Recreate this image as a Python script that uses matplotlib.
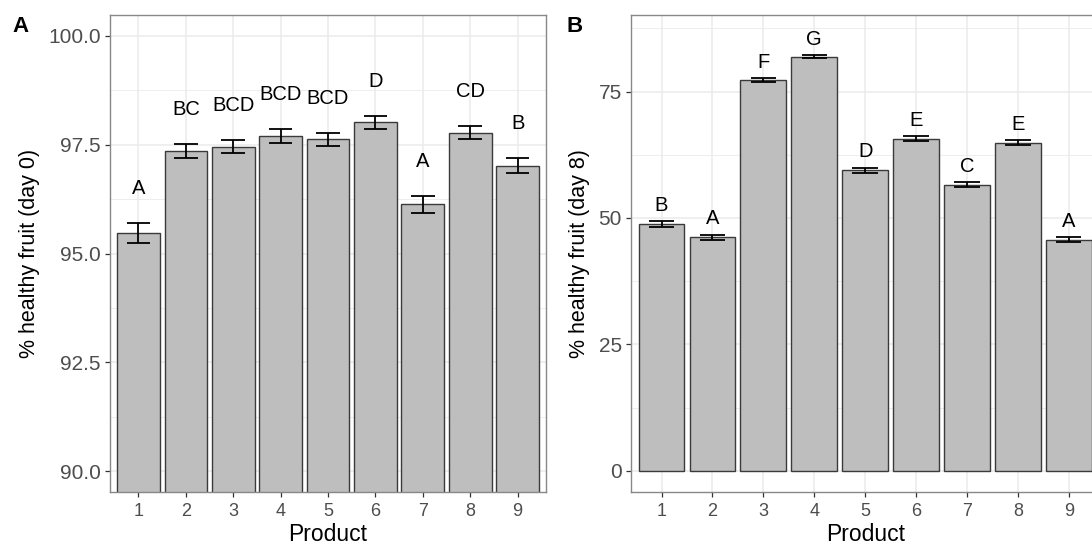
import matplotlib
matplotlib.use("Agg")
import matplotlib.pyplot as plt
import numpy as np

plt.rcParams['font.family'] = ['Liberation Sans', 'DejaVu Sans']

products = [1, 2, 3, 4, 5, 6, 7, 8, 9]

day0_mean = [95.47, 97.36, 97.45, 97.70, 97.62, 98.01, 96.13, 97.78, 97.02]
day0_se = [0.22, 0.16, 0.15, 0.15, 0.15, 0.145, 0.195, 0.15, 0.175]
day0_letters = ["A", "BC", "BCD", "BCD", "BCD", "D", "A", "CD", "B"]

day8_mean = [48.8, 46.17, 77.25, 81.9, 59.4, 65.72, 56.57, 64.87, 45.71]
day8_se = [0.6, 0.55, 0.4, 0.3, 0.5, 0.5, 0.5, 0.5, 0.45]
day8_letters = ["B", "A", "F", "G", "D", "E", "C", "E", "A"]

W, H = 1092, 545
fig = plt.figure(figsize=(W / 100, H / 100), dpi=100)

GRID = '#EBEBEB'
BORDER = '#888888'
TICKC = '#4D4D4D'


def panel(rect, means, ses, letters, ylim, major, minor, ylabel, fmt, label_off, tag, tag_x):
    ax = fig.add_axes(rect)
    x = np.array(products, dtype=float)
    m = np.array(means)
    s = np.array(ses)
    ax.bar(x, m, width=0.9, color='#BEBEBE', edgecolor='#3A3A3A', linewidth=1.0, zorder=2)
    ax.vlines(x, m - s, m + s, color='black', linewidth=1.3, zorder=3)
    ax.hlines(m - s, x - 0.25, x + 0.25, color='black', linewidth=1.3, zorder=3)
    ax.hlines(m + s, x - 0.25, x + 0.25, color='black', linewidth=1.3, zorder=3)
    for xi, top, lab in zip(x, m + s, letters):
        ax.annotate(lab, (xi, top), xytext=(0, label_off), textcoords='offset points',
                    ha='center', va='center', fontsize=14.5, color='black', zorder=4)
    ax.set_xlim(0.4, 9.6)
    ax.set_ylim(*ylim)
    ax.set_xticks(products)
    ax.set_xticklabels([str(p) for p in products])
    ax.set_yticks(major)
    ax.set_yticklabels([fmt.format(v) for v in major])
    ax.set_yticks(minor, minor=True)
    ax.set_axisbelow(True)
    ax.grid(True, which='major', color=GRID, linewidth=1.1, zorder=0)
    ax.grid(True, which='minor', axis='y', color=GRID, linewidth=0.6, zorder=0)
    ax.tick_params(axis='y', which='minor', length=0)
    ax.tick_params(axis='both', which='major', length=3.6, width=0.9, color='#333333',
                   labelcolor=TICKC, pad=3)
    ax.tick_params(axis='y', labelsize=15)
    ax.tick_params(axis='x', labelsize=13, pad=4)
    for sp in ax.spines.values():
        sp.set_color(BORDER)
        sp.set_linewidth(1.0)
    ax.set_xlabel('Product', fontsize=16.5, labelpad=2.5)
    ax.set_ylabel(ylabel, fontsize=15.5, labelpad=6)
    fig.text(tag_x, 1 - 26 / H, tag, fontsize=16, fontweight='bold', ha='left', va='center')
    return ax


bottom = (H - 492) / H
height = 477 / H

panel([110 / W, bottom, 436 / W, height], day0_mean, day0_se, day0_letters,
      (89.52, 100.48), [90.0, 92.5, 95.0, 97.5, 100.0], [91.25, 93.75, 96.25, 98.75],
      '% healthy fruit (day 0)', '{:.1f}', 25, 'A', 12 / W)

panel([631 / W, bottom, 468.3 / W, height], day8_mean, day8_se, day8_letters,
      (-4.2, 90.15), [0, 25, 50, 75], [12.5, 37.5, 62.5, 87.5],
      '% healthy fruit (day 8)', '{:.0f}', 11.5, 'B', 566 / W)

fig.savefig('out.png', dpi=100)
